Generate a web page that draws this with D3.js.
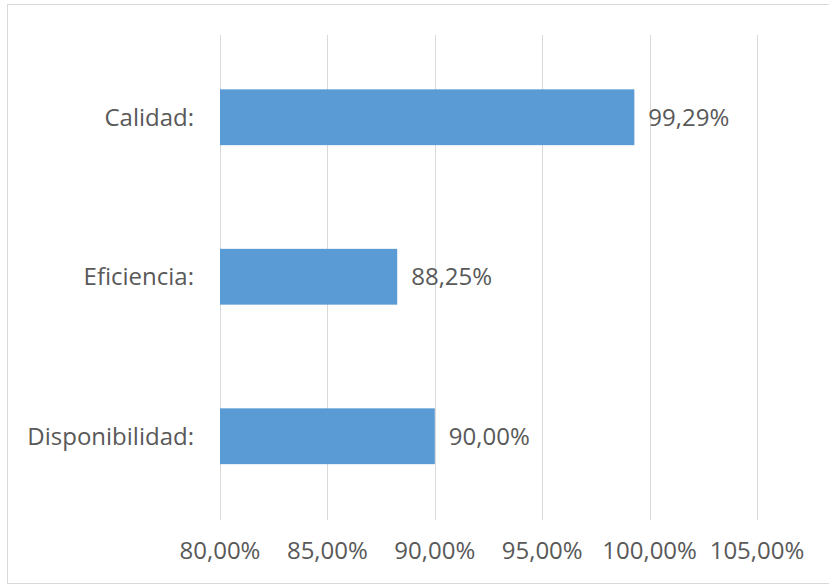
<!DOCTYPE html>
<html>
<head>
<meta charset="utf-8">
<script src="https://cdn.jsdelivr.net/npm/d3@7"></script>
<style>
  body { margin: 0; background: #fff; }
  svg text { font-family: "Open Sans", "Noto Sans", sans-serif; fill: #595959; }
</style>
</head>
<body>
<div id="chart"></div>
<script>
const categories = ["Calidad:", "Eficiencia:", "Disponibilidad:"];
const values = [99.29, 88.25, 90.00];
const tickValues = [80, 85, 90, 95, 100, 105];

const W = 829, H = 586;
const margin = {top: 35, right: 72, bottom: 66, left: 220};

const svg = d3.select("#chart").append("svg")
    .attr("width", W)
    .attr("height", H);

// chart border
svg.append("rect")
    .attr("x", 7.5).attr("y", 4.5)
    .attr("width", W).attr("height", 579)
    .attr("fill", "none")
    .attr("stroke", "#d9d9d9");

const x = d3.scaleLinear()
    .domain([80, 105])
    .range([margin.left, W - margin.right]);

const y = d3.scaleBand()
    .domain(categories)
    .range([37.5, 516])
    .paddingInner(0.65)
    .paddingOuter(0.325);

const fmt = v => d3.format(".2f")(v).replace(".", ",") + "%";

// gridlines
svg.append("g")
    .selectAll("line")
    .data(tickValues)
    .join("line")
    .attr("x1", d => Math.round(x(d)) + 0.5)
    .attr("x2", d => Math.round(x(d)) + 0.5)
    .attr("y1", margin.top)
    .attr("y2", H - margin.bottom)
    .attr("stroke", "#d9d9d9");

// bars
const rows = categories.map((c, i) => ({cat: c, val: values[i]}));
svg.append("g")
    .selectAll("rect")
    .data(rows)
    .join("rect")
    .attr("x", x(80))
    .attr("y", d => y(d.cat))
    .attr("width", d => x(d.val) - x(80))
    .attr("height", y.bandwidth())
    .attr("fill", "#5b9bd5");

// value labels
svg.append("g")
    .selectAll("text")
    .data(rows)
    .join("text")
    .attr("x", d => x(d.val) + 14)
    .attr("y", d => y(d.cat) + y.bandwidth() / 2)
    .attr("dy", "0.35em")
    .style("font-size", "24px")
    .text(d => fmt(d.val));

// category labels
svg.append("g")
    .selectAll("text")
    .data(categories)
    .join("text")
    .attr("x", margin.left - 26)
    .attr("y", d => y(d) + y.bandwidth() / 2)
    .attr("dy", "0.35em")
    .attr("text-anchor", "end")
    .style("font-size", "24px")
    .text(d => d);

// x tick labels
svg.append("g")
    .selectAll("text")
    .data(tickValues)
    .join("text")
    .attr("x", d => x(d))
    .attr("y", 551)
    .attr("dy", "0.35em")
    .attr("text-anchor", "middle")
    .style("font-size", "24px")
    .text(d => fmt(d));
</script>
</body>
</html>
